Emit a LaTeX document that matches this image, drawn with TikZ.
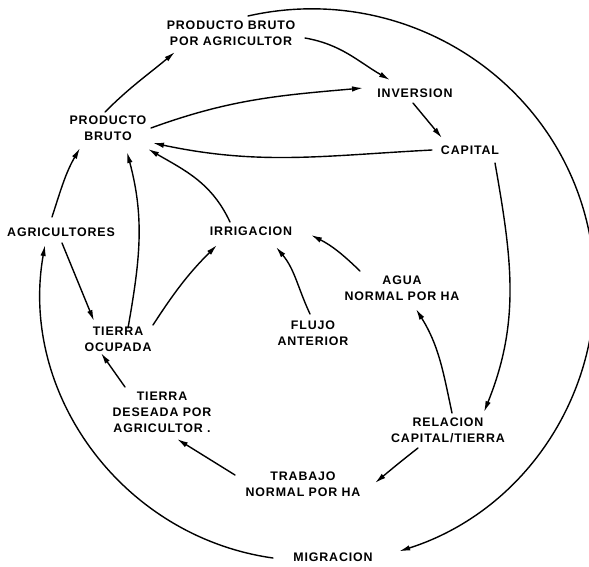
\documentclass[tikz,border=0pt]{standalone}
\usepackage{fontspec}
\setmainfont{Liberation Sans}[LetterSpace=7]
\usetikzlibrary{arrows.meta}
\begin{document}
\begin{tikzpicture}[x=1pt,y=1pt,
  lab/.style={font=\bfseries\fontsize{12.4}{16}\selectfont, align=center, inner sep=1pt},
  arr/.style={-{Latex[length=11pt,width=5.5pt]}, line width=1.4pt, line cap=round}]
\useasboundingbox (0,0) rectangle (589,-566);
% nodes
\node[lab] (pbpa)  at (231,-33)  {PRODUCTO BRUTO\\POR AGRICULTOR};
\node[lab] (inv)   at (415,-93)  {INVERSION};
\node[lab] (pb)    at (108,-128) {PRODUCTO\\BRUTO};
\node[lab] (cap)   at (470,-150) {CAPITAL};
\node[lab] (agr)   at (61,-232)  {AGRICULTORES};
\node[lab] (irr)   at (251,-231) {IRRIGACION};
\node[lab] (agua)  at (402,-288) {AGUA\\NORMAL POR HA};
\node[lab] (flujo) at (313,-333) {FLUJO\\ANTERIOR};
\node[lab] (to)    at (118,-339) {TIERRA\\OCUPADA};
\node[lab] (td)    at (162,-412) {TIERRA\\DESEADA POR\\AGRICULTOR .};
\node[lab] (rel)   at (448,-430) {RELACION\\CAPITAL/TIERRA};
\node[lab] (trab)  at (303,-484) {TRABAJO\\NORMAL POR HA};
\node[lab] (mig)   at (333,-557) {MIGRACION};
% connectors
\draw[arr] ([shift={(-3,16)}]pb.center) to[out=45,in=220] ([shift={(-56,-19)}]pbpa.center);
\draw[arr] ([shift={(74,-5)}]pbpa.center) to[out=-10,in=150] ([shift={(-25,13)}]inv.center);
\draw[arr] ([shift={(43,0)}]pb.center) to[out=20,in=185] ([shift={(-52,5)}]inv.center);
\draw[arr] ([shift={(-2,-10)}]inv.center) -- ([shift={(-28,12)}]cap.center);
\draw[arr] ([shift={(-38,0)}]cap.center) to[out=183,in=-12] ([shift={(45,-15)}]pb.center);
\draw[arr] ([shift={(25,-13)}]cap.center) to[out=-80,in=68] ([shift={(36,18)}]rel.center);
\draw[arr] ([shift={(4,17)}]rel.center) to[out=102,in=-58] ([shift={(14,-21)}]agua.center);
\draw[arr] ([shift={(-30,-18)}]rel.center) to[out=218,in=40] ([shift={(72,1)}]trab.center);
\draw[arr] ([shift={(-68,9)}]trab.center) -- ([shift={(15,-27)}]td.center);
\draw[arr] ([shift={(-37,25)}]td.center) -- ([shift={(-17,-14)}]to.center);
\draw[arr] ([shift={(-42,17)}]agua.center) to[out=136,in=-27] ([shift={(60,-4)}]irr.center);
\draw[arr] ([shift={(-3,19)}]flujo.center) to[out=115,in=-50] ([shift={(25,-16)}]irr.center);
\draw[arr] ([shift={(35,14)}]to.center) to[out=57,in=225] ([shift={(-34,-14)}]irr.center);
\draw[arr] ([shift={(10,11)}]to.center) to[out=80,in=-75] ([shift={(19,-24)}]pb.center);
\draw[arr] ([shift={(-9,15)}]agr.center) to[out=72,in=-120] ([shift={(-28,-20)}]pb.center);
\draw[arr] ([shift={(-21,9)}]irr.center) to[out=115,in=-30] ([shift={(40,-21)}]pb.center);
\draw[arr] ([shift={(1,-11)}]agr.center) -- ([shift={(-24,18)}]to.center);
\draw[arr] ([shift={(-60,-1)}]mig.center) to[out=172,in=-100] ([shift={(-16,-13)}]agr.center);
\draw[arr] ([shift={(17,17)}]pbpa.center) arc[start angle=103, end angle=-72, x radius=283pt, y radius=278pt];
\end{tikzpicture}
\end{document}
